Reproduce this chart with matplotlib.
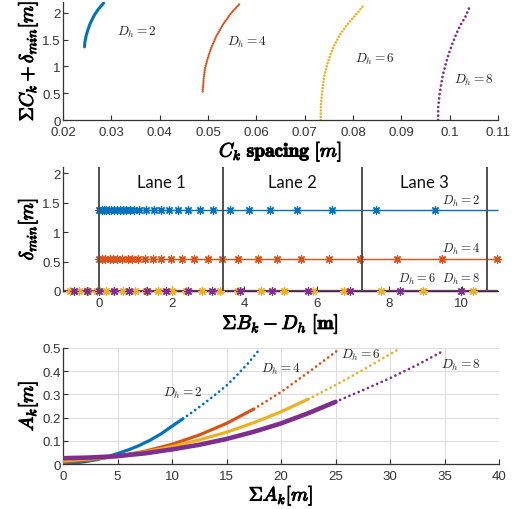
import numpy as np
import matplotlib
matplotlib.use('Agg')
from matplotlib import pyplot as plt
import matplotlib.patheffects as pe

plt.rcParams['mathtext.fontset'] = 'cm'
plt.rcParams['font.family'] = ['Liberation Sans', 'DejaVu Sans']

# MATLAB default colours
blue = '#0072BD'
orange = '#D95319'
yellow = '#EDB120'
purple = '#7E2F8E'
cols = [blue, orange, yellow, purple]
labels = ['$D_h = 2$', '$D_h = 4$', '$D_h = 6$', '$D_h = 8$']

# --- panel 1 : C_k spacing vs sum C_k + delta_min
c_blue_x = [0.02446, 0.02452, 0.02481, 0.02515, 0.02549, 0.02600, 0.02652, 0.02735, 0.0284]
c_blue_y = [1.364, 1.45, 1.58, 1.68, 1.77, 1.87, 1.96, 2.07, 2.18]
c_orange_x = [0.04889, 0.04910, 0.04937, 0.04992, 0.05061, 0.05164, 0.05302, 0.05474, 0.05646]
c_orange_y = [0.531, 0.769, 0.957, 1.145, 1.332, 1.551, 1.770, 1.989, 2.158]
c_yellow_x = [0.07333, 0.07333, 0.07354, 0.07381, 0.07416, 0.07471, 0.07540, 0.07629, 0.07746, 0.07870, 0.08022, 0.08228]
c_yellow_y = [0.0, 0.237, 0.457, 0.676, 0.863, 1.051, 1.238, 1.426, 1.614, 1.770, 1.926, 2.145]
c_purple_x = [0.0976, 0.09762, 0.09789, 0.09824, 0.09865, 0.09920, 0.09982, 0.10058, 0.10140, 0.10223, 0.10326, 0.10415]
c_purple_y = [0.0, 0.237, 0.457, 0.676, 0.863, 1.051, 1.238, 1.426, 1.614, 1.770, 1.926, 2.114]
c_xticks = [0.02, 0.03, 0.04, 0.05, 0.06, 0.07, 0.08, 0.09, 0.10, 0.11]
c_xticklabels = ['0.02', '0.03', '0.04', '0.05', '0.06', '0.07', '0.08', '0.09', '0.1', '0.11']
c_text_x = [0.0312, 0.0540, 0.0805, 0.1009]
c_text_y = [1.66, 1.46, 1.145, 0.757]

# --- panel 2 : lanes, delta_min vs sum B_k - D_h
b_blue = [0, 0.07, 0.13, 0.2, 0.27, 0.33, 0.4, 0.48, 0.56, 0.65, 0.75, 0.85, 0.96, 1.1, 1.3,
          1.51, 1.71, 1.93, 2.17, 2.46, 2.78, 3.15, 3.6, 4.12, 4.72, 5.46, 6.43, 7.64, 9.26]
b_orange = [0, 0.08, 0.17, 0.29, 0.38, 0.5, 0.64, 0.78, 0.91, 1.07, 1.26, 1.48, 1.71, 1.99,
            2.29, 2.62, 3.01, 3.38, 3.84, 4.37, 4.91, 5.57, 6.33, 7.18, 8.22, 9.45, 10.98]
b_yellow = [-0.82, -0.55, -0.3, -0.05, 0.2, 0.42, 0.66, 0.98, 1.28, 1.63, 2.02, 2.4, 2.84,
            3.32, 3.83, 4.45, 5.11, 5.89, 6.75, 7.76, 8.93, 10.3]
b_purple = [-0.7, -0.35, 0, 0.4, 0.83, 1.31, 1.85, 2.44, 3.11, 3.88, 4.76, 5.76, 6.92, 8.29, 9.97]
delta_min = [1.378, 0.55, 0.0, 0.0]
lane_edges = [0, 3.42, 7.25, 10.7]
lane_names = ['Lane 1', 'Lane 2', 'Lane 3']
b_text_x = [10.5, 10.5, 9.3, 10.5]
b_text_y = [1.53, 0.726, 0.215, 0.215]

# --- panel 3 : A_k vs sum A_k
a_blue_x = [0, 1, 2, 3, 4, 5, 6, 7, 8, 9, 10, 11, 12, 13, 14, 15, 16, 17, 17.9]
a_blue_y = [0.0, 0.004, 0.01, 0.018, 0.03, 0.045, 0.061, 0.08, 0.103, 0.13, 0.163, 0.195,
            0.228, 0.263, 0.3, 0.338, 0.385, 0.435, 0.487]
a_orange_x = [0, 2.5, 5, 7.5, 10, 12.5, 15, 17.5, 20, 22.5, 25.2]
a_orange_y = [0.008, 0.018, 0.033, 0.055, 0.085, 0.125, 0.175, 0.237, 0.31, 0.395, 0.49]
a_yellow_x = [0, 2.5, 5, 7.5, 10, 12.5, 15, 17.5, 20, 22.5, 25, 27.5, 30.6]
a_yellow_y = [0.014, 0.022, 0.033, 0.051, 0.075, 0.104, 0.137, 0.178, 0.225, 0.28, 0.34, 0.405, 0.49]
a_purple_x = [0, 2.5, 5, 7.5, 10, 12.5, 15, 17.5, 20, 22.5, 25, 27.5, 30, 32.5, 35]
a_purple_y = [0.025, 0.028, 0.034, 0.046, 0.063, 0.083, 0.108, 0.139, 0.175, 0.219, 0.268,
              0.318, 0.37, 0.427, 0.49]
a_split = [11, 7, 9, 10]   # index where the dots start to separate
a_text_x = [9.15, 18.2, 25.5, 34.7]
a_text_y = [0.309, 0.41, 0.474, 0.431]

axcol = '#333333'
tick_fs = 9.5
bold_fx = [pe.withStroke(linewidth=0.7, foreground='black')]


def style_axes(ax):
    ax.spines['top'].set_visible(False)
    ax.spines['right'].set_visible(False)
    for s in ['left', 'bottom']:
        ax.spines[s].set_color(axcol)
        ax.spines[s].set_linewidth(0.9)
    ax.tick_params(direction='in', length=3.5, width=0.8, colors=axcol,
                   labelsize=tick_fs, pad=1.5)
    ax.tick_params(axis='x', pad=4.5)


fig = plt.figure(figsize=(5.13, 5.10), dpi=100)

# ---------------- top
ax1 = fig.add_axes([0.1228, 0.7627, 0.848, 0.2314])
dotted = [None, (0, (0.01, 0.9)), (0, (0.01, 1.2)), (0, (0.01, 1.55))]
lws = [2.2, 1.7, 1.9, 2.0]
series1 = [(c_blue_x, c_blue_y), (c_orange_x, c_orange_y),
           (c_yellow_x, c_yellow_y), (c_purple_x, c_purple_y)]
for (x, y), c, ls, lw in zip(series1, cols, dotted, lws):
    if ls is None:
        ax1.plot(x, y, color=c, lw=lw, solid_capstyle='round')
    else:
        ax1.plot(x, y, color=c, lw=lw, linestyle=ls, dash_capstyle='round')
for tx, ty, t in zip(c_text_x, c_text_y, labels):
    ax1.text(tx, ty, t, fontsize=9.5, va='center', ha='left', color='#222222')
ax1.set_xlim(0.02, 0.11)
ax1.set_ylim(0, 2.2)
ax1.set_xticks(c_xticks)
ax1.set_xticklabels(c_xticklabels)
ax1.set_yticks([0, 0.5, 1, 1.5, 2])
ax1.set_yticklabels(['0', '0.5', '1', '1.5', '2'])
style_axes(ax1)
ax1.set_xlabel(r'$C_k$ $\mathbf{spacing}$ $[m]$', fontsize=14, labelpad=1,
               path_effects=bold_fx)
ax1.set_ylabel(r'$\Sigma C_k + \delta_{min}[m]$', fontsize=14, labelpad=2,
               path_effects=bold_fx)

# ---------------- middle
ax2 = fig.add_axes([0.1228, 0.4275, 0.848, 0.2424])
x_lo, x_hi = -1, 11
star = (8, 2, 0)
series2 = [b_blue, b_orange, b_yellow, b_purple]
line_lw = [1.0, 1.0, 1.6, 1.6]
for b, lvl, c, llw in zip(series2, delta_min, cols, line_lw):
    start = b[0] if lvl > 0 else x_lo
    ax2.hlines(lvl, start, x_hi, color=c, lw=llw, zorder=2, clip_on=False)
    ax2.plot(b, [lvl] * len(b), linestyle='none', marker=star, ms=6, mew=0.9,
             color=c, zorder=3, clip_on=False)
for e in lane_edges:
    ax2.axvline(e, color='#505050', lw=1.4, zorder=4)
for i, name in enumerate(lane_names):
    ax2.text((lane_edges[i] + lane_edges[i + 1]) / 2, 1.85, name, ha='center', va='center',
             fontsize=12, family=['Lato', 'DejaVu Sans'], color='#111111')
for tx, ty, t in zip(b_text_x, b_text_y, labels):
    ax2.text(tx, ty, t, fontsize=9, va='center', ha='right', color='#222222')
ax2.set_xlim(x_lo, x_hi)
ax2.set_ylim(0, 2.1)
ax2.set_xticks([0, 2, 4, 6, 8, 10])
ax2.set_yticks([0, 0.5, 1, 1.5, 2])
ax2.set_yticklabels(['0', '0.5', '1', '1.5', '2'])
style_axes(ax2)
ax2.set_xlabel(r'$\Sigma B_k - D_h$ $\mathbf{[m]}$', fontsize=14, labelpad=2,
               path_effects=bold_fx)
ax2.set_ylabel(r'$\delta_{min}[m]$', fontsize=14, labelpad=2, path_effects=bold_fx)

# ---------------- bottom
ax3 = fig.add_axes([0.1228, 0.0882, 0.85, 0.2275])
series3 = [(a_blue_x, a_blue_y), (a_orange_x, a_orange_y),
           (a_yellow_x, a_yellow_y), (a_purple_x, a_purple_y)]
solid_lw = [2.3, 2.3, 2.3, 3.3]
for (x, y), c, sp, slw in zip(series3, cols, a_split, solid_lw):
    ax3.plot(x[:sp + 1], y[:sp + 1], color=c, lw=slw, solid_capstyle='round', zorder=3)
    ax3.plot(x[sp:], y[sp:], color=c, lw=2.0, linestyle=(0, (0.01, 1.8)),
             dash_capstyle='round', zorder=3)
for tx, ty, t in zip(a_text_x, a_text_y, labels):
    ax3.text(tx, ty, t, fontsize=9.5, va='center', ha='left', color='#222222')
ax3.set_xlim(0, 40)
ax3.set_ylim(0, 0.5)
ax3.set_xticks(np.arange(0, 41, 5))
ax3.set_yticks([0, 0.1, 0.2, 0.3, 0.4, 0.5])
ax3.set_yticklabels(['0', '0.1', '0.2', '0.3', '0.4', '0.5'])
ax3.grid(True, color='#dddddd', lw=0.8)
ax3.set_axisbelow(True)
style_axes(ax3)
ax3.set_xlabel(r'$\Sigma A_k[m]$', fontsize=14, labelpad=1, path_effects=bold_fx)
ax3.set_ylabel(r'$A_k[m]$', fontsize=14, labelpad=2, path_effects=bold_fx)

fig.savefig('out.png', dpi=100)
